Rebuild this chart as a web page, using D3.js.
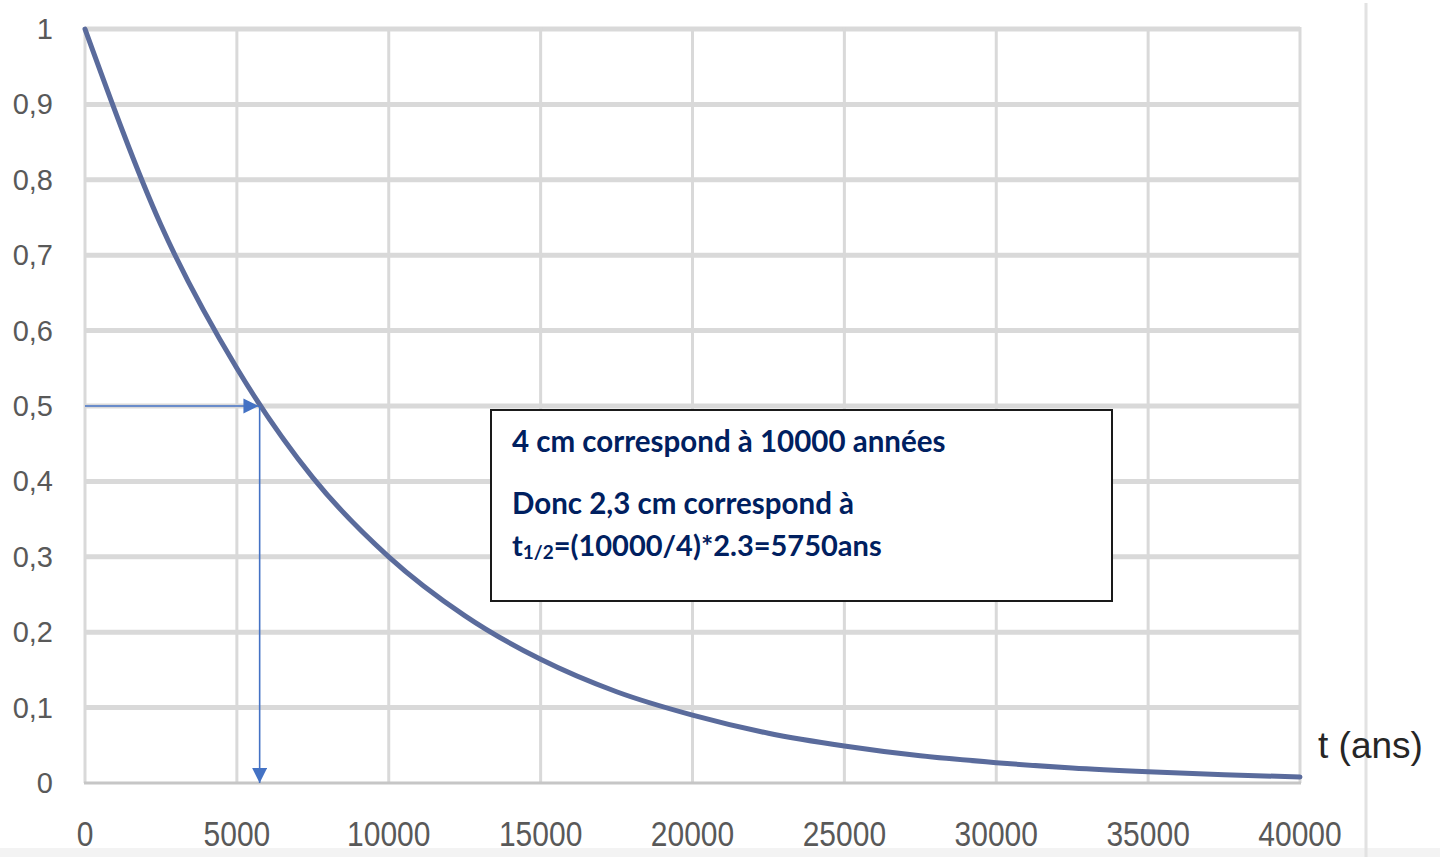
<!DOCTYPE html>
<html>
<head>
<meta charset="utf-8">
<script src="https://cdn.jsdelivr.net/npm/d3@7"></script>
<style>
  body { margin: 0; background: #fff; }
  svg { display: block; }
</style>
</head>
<body>
<div id="chart"></div>
<script>
// values
var years = [0, 2500, 5000, 7500, 10000, 12500, 15000, 17500, 20000,
             22500, 25000, 27500, 30000, 32500, 35000, 37500, 40000];
var ratio = [1, 0.74, 0.55, 0.405, 0.30, 0.222, 0.164, 0.121, 0.09,
             0.066, 0.049, 0.036, 0.027, 0.02, 0.015, 0.011, 0.008];

var xTicks = [0, 5000, 10000, 15000, 20000, 25000, 30000, 35000, 40000];
var yTicks = [0, 0.1, 0.2, 0.3, 0.4, 0.5, 0.6, 0.7, 0.8, 0.9, 1];

var halfLife = 5750;
var halfValue = 0.5;

var boxLines = ["4 cm correspond à 10000 années", "Donc 2,3 cm correspond à"];

var svgWidth = 1440;
var svgHeight = 857;

var svg = d3.select("#chart")
  .append("svg")
  .attr("width", svgWidth)
  .attr("height", svgHeight);

var xScale = d3.scaleLinear().domain([0, 40000]).range([85, 1300]);
var yScale = d3.scaleLinear().domain([0, 1]).range([783, 29]);

// bottom grey strip + right border line
svg.append("rect")
  .attr("x", 0).attr("y", 848)
  .attr("width", svgWidth).attr("height", 9)
  .attr("fill", "#f3f3f3");
svg.append("line")
  .attr("x1", 1366).attr("x2", 1366)
  .attr("y1", 3).attr("y2", svgHeight)
  .attr("stroke", "#e2e2e2")
  .attr("stroke-width", 3);

// grid
svg.append("g").selectAll("line")
  .data(yTicks.slice(1))
  .enter()
  .append("line")
  .attr("x1", xScale(0)).attr("x2", xScale(40000))
  .attr("y1", d => yScale(d)).attr("y2", d => yScale(d))
  .attr("stroke", "#d9d9d9")
  .attr("stroke-width", 5);

svg.append("g").selectAll("line")
  .data(xTicks)
  .enter()
  .append("line")
  .attr("x1", d => xScale(d)).attr("x2", d => xScale(d))
  .attr("y1", yScale(1) - 2).attr("y2", yScale(0))
  .attr("stroke", "#d9d9d9")
  .attr("stroke-width", 3);

// base line
svg.append("line")
  .attr("x1", xScale(0) - 1).attr("x2", xScale(40000) + 1)
  .attr("y1", yScale(0)).attr("y2", yScale(0))
  .attr("stroke", "#c6c6c6")
  .attr("stroke-width", 3);

// tick labels
svg.append("g").selectAll("text")
  .data(yTicks)
  .enter()
  .append("text")
  .attr("x", 53)
  .attr("y", d => yScale(d) + 10)
  .attr("text-anchor", "end")
  .attr("font-family", "Liberation Sans, Arial, sans-serif")
  .attr("font-size", 29)
  .attr("fill", "#595959")
  .text(d => d === 0 ? "0" : d === 1 ? "1" : String(d).replace(".", ","));

svg.append("g").selectAll("text")
  .data(xTicks)
  .enter()
  .append("text")
  .attr("transform", d => `translate(${xScale(d)},846) scale(1,1.15)`)
  .attr("text-anchor", "middle")
  .attr("font-family", "Liberation Sans, Arial, sans-serif")
  .attr("font-size", 30)
  .attr("fill", "#595959")
  .text(d => d);

svg.append("text")
  .attr("x", 1318)
  .attr("y", 758)
  .attr("font-family", "Liberation Sans, Arial, sans-serif")
  .attr("font-size", 37)
  .attr("fill", "#262626")
  .text("t (ans)");

// decay curve
var pts = years.map((t, i) => [t, ratio[i]]);
var line = d3.line()
  .x(d => xScale(d[0]))
  .y(d => yScale(d[1]))
  .curve(d3.curveMonotoneX);

svg.append("path")
  .datum(pts)
  .attr("d", line)
  .attr("fill", "none")
  .attr("stroke", "#5a6b9c")
  .attr("stroke-width", 5)
  .attr("stroke-linecap", "round");

// arrows for half life
var defs = svg.append("defs");
defs.append("marker")
  .attr("id", "head")
  .attr("viewBox", "0 0 10 10")
  .attr("refX", 10).attr("refY", 5)
  .attr("markerWidth", 9.5).attr("markerHeight", 9.5)
  .attr("markerUnits", "strokeWidth")
  .attr("orient", "auto")
  .append("path")
  .attr("d", "M0,0 L10,5 L0,10 Z")
  .attr("fill", "#4472c4");

svg.append("line")
  .attr("x1", xScale(0)).attr("y1", yScale(halfValue))
  .attr("x2", xScale(halfLife) - 1).attr("y2", yScale(halfValue))
  .attr("stroke", "#4472c4")
  .attr("stroke-width", 1.6)
  .attr("marker-end", "url(#head)");

svg.append("line")
  .attr("x1", xScale(halfLife)).attr("y1", yScale(halfValue))
  .attr("x2", xScale(halfLife)).attr("y2", yScale(0))
  .attr("stroke", "#4472c4")
  .attr("stroke-width", 1.6)
  .attr("marker-end", "url(#head)");

// text box
var box = svg.append("g");
box.append("rect")
  .attr("x", 491).attr("y", 410)
  .attr("width", 621).attr("height", 191)
  .attr("fill", "#fff")
  .attr("stroke", "#1a1a1a")
  .attr("stroke-width", 2);

var font = "Lato, 'Open Sans', sans-serif";
box.selectAll("text.l")
  .data(boxLines)
  .enter()
  .append("text")
  .attr("class", "l")
  .attr("x", 512)
  .attr("y", (d, i) => i === 0 ? 452 : 514)
  .attr("font-family", font)
  .attr("font-weight", 700)
  .attr("font-size", 29.5)
  .attr("fill", "#002060")
  .text(d => d);

var t3 = box.append("text")
  .attr("x", 512).attr("y", 556)
  .attr("font-family", font)
  .attr("font-weight", 700)
  .attr("font-size", 29)
  .attr("fill", "#002060");
t3.append("tspan").text("t");
t3.append("tspan").attr("font-size", 19).attr("dy", 3).text("1/2");
t3.append("tspan").attr("dy", -3).text("=(10000/4)*2.3=5750ans");
</script>
</body>
</html>
